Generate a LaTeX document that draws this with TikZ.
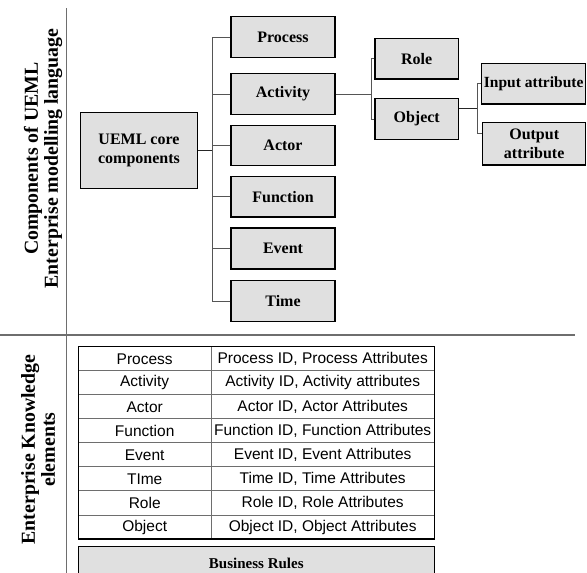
\documentclass[tikz,border=0pt]{standalone}
\usepackage{fontspec}
\setmainfont{Liberation Serif}
\setsansfont{Liberation Sans}
\definecolor{boxgray}{HTML}{E0E0E0}
\definecolor{linegray}{HTML}{6E6E6E}
\definecolor{conngray}{HTML}{555555}
\begin{document}
\begin{tikzpicture}[x=1pt,y=-1pt,
  box/.style={draw=black, line width=1.3pt, fill=boxgray, align=center, inner sep=0pt,
    font=\bfseries\fontsize{16}{18.5}\selectfont},
  conn/.style={draw=conngray, line width=1pt},
  trunk/.style={draw=black!85, line width=1.6pt},
  divider/.style={draw=linegray, line width=1.4pt},
  sidelabel/.style={rotate=90, align=center, font=\bfseries\fontsize{19.8}{20}\selectfont},
  cell/.style={inner sep=0pt, font=\sffamily\fontsize{15.5}{18}\selectfont},
  gridline/.style={draw=linegray, line width=0.9pt},
  tableframe/.style={draw=black, line width=1.5pt}
]
\useasboundingbox (0,0) rectangle (587,573);

% dividers
\coordinate (vtop) at (66.5,8);
\coordinate (vbot) at (66.5,573);
\coordinate (hl) at (0,335);
\coordinate (hr) at (575,335);
\draw[divider] (vtop) -- (vbot);
\draw[divider] (hl) -- (hr);

% side labels
\node[sidelabel] (lab1) at (43,158.5) {Components of UEML\\Enterprise modelling language};
\node[sidelabel] (lab2) at (38,449.5) {Enterprise Knowledge\\elements};

% core boxes
\node[box, minimum width=116.6pt, minimum height=76pt] (ueml) at (139,150.3) {UEML core\\components};
\node[box, minimum width=104pt, minimum height=40.5pt] (proc) at (283,37) {Process};
\node[box, minimum width=104pt, minimum height=40.5pt] (act) at (283,94) {Activity};
\node[box, minimum width=104pt, minimum height=40.5pt] (actor) at (283,145.5) {Actor};
\node[box, minimum width=104pt, minimum height=40.5pt] (func) at (283,196.7) {Function};
\node[box, minimum width=104pt, minimum height=41pt] (event) at (283,248.5) {Event};
\node[box, minimum width=104pt, minimum height=40.5pt] (time) at (283,301) {Time};
\node[box, minimum width=83.3pt, minimum height=40.7pt] (role) at (416.7,58.7) {Role};
\node[box, minimum width=83.3pt, minimum height=40.7pt] (obj) at (416.7,119) {Object};
\node[box, minimum width=104pt, minimum height=40.7pt, font=\bfseries\fontsize{15.5}{18}\selectfont] (inp) at (533.7,83.7) {Input attribute};
\node[box, minimum width=103pt, minimum height=42.3pt] (outp) at (534.2,143.8) {Output\\attribute};

% connectors
\coordinate (bus) at (212,150.3);
\draw[trunk] (ueml.east) -- (bus);
\foreach \n in {proc,act,actor,func,event,time}
  \draw[conn] (\n.west) -| (bus);
\coordinate (bus2) at (371,94);
\draw[conn] (act.east) -- (bus2);
\draw[conn] (role.west) -| (bus2);
\draw[conn] (obj.west) -| (bus2);
\coordinate (bus3) at (477.5,108.3);
\draw[trunk, line width=1.3pt] (obj.east |- bus3) -- (bus3);
\draw[conn] (inp.west) -| (bus3);
\draw[conn] (bus3) |- ([yshift=10.8pt]outp.west);

% table
\coordinate (ttl) at (78.3,346.7);
\coordinate (tbr) at (434.3,539);
\foreach \i/\a/\b in {0/Process/{Process ID, Process Attributes},
                      1/Activity/{Activity ID, Activity attributes},
                      2/Actor/{Actor ID, Actor Attributes},
                      3/Function/{Function ID, Function Attributes},
                      4/Event/{Event ID, Event Attributes},
                      5/TIme/{Time ID, Time Attributes},
                      6/Role/{Role ID, Role Attributes},
                      7/Object/{Object ID, Object Attributes}} {
  \node[cell] (l\i) at (144.7,{358.9+24.04*\i}) {\a};
  \node[cell] (r\i) at (322.7,{358.9+24.04*\i}) {\b};
}
\foreach \i in {1,...,7}
  \draw[gridline] (78.3,{346.7+24.04*\i}) -- (434.3,{346.7+24.04*\i});
\draw[gridline] (211,346.7) -- (211,539);
\draw[tableframe] (ttl) rectangle (tbr);

% business rules
\node[box, line width=1.3pt, minimum width=356pt, minimum height=34pt, font=\bfseries\fontsize{15}{18}\selectfont] (rules) at (256.3,563.7) {Business Rules};
\end{tikzpicture}
\end{document}
